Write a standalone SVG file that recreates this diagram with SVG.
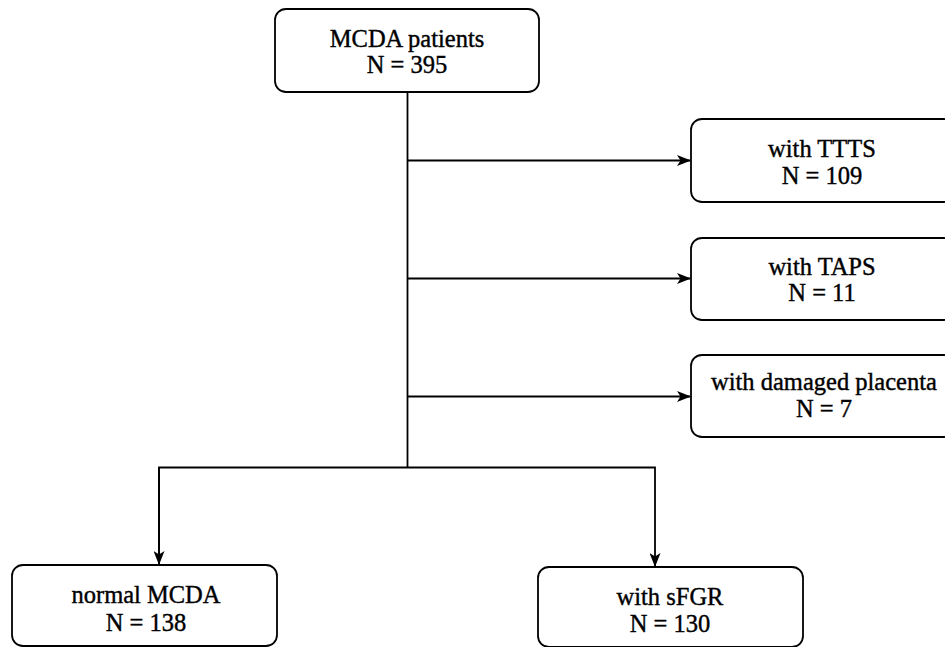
<svg xmlns="http://www.w3.org/2000/svg" width="945" height="647" viewBox="0 0 945 647">
<defs>
<style>
.box{fill:#fff;stroke:#000;stroke-width:1.8}
.t{font-family:"Liberation Serif","Times New Roman",serif;font-size:24.5px;fill:#000;stroke:#000;stroke-width:0.4;text-anchor:middle}
.ln{fill:none;stroke:#000;stroke-width:1.8}
</style>
<marker id="ah" viewBox="0 0 14 11" refX="13" refY="5.5" markerWidth="14" markerHeight="11" markerUnits="userSpaceOnUse" orient="auto">
<path d="M0,0 L14,5.5 L0,11 L3.5,5.5 Z" fill="#000"/>
</marker>
</defs>
<rect width="945" height="647" fill="#fff"/>
<g id="connectors">
<path class="ln" d="M407.5,92 V468"/>
<path class="ln" d="M407.5,160.5 H690" marker-end="url(#ah)"/>
<path class="ln" d="M407.5,278.5 H690" marker-end="url(#ah)"/>
<path class="ln" d="M407.5,396.5 H690" marker-end="url(#ah)"/>
<path class="ln" d="M159,566 V467.5 H655 V566" marker-end="url(#ah)"/>
<path class="ln" d="M159,467.5 V564" marker-end="url(#ah)"/>
</g>
<g id="n-mcda">
<rect class="box" x="275" y="9" width="264" height="83" rx="11"/>
<text class="t" x="407" y="47">MCDA patients</text>
<text class="t" x="407" y="73">N = 395</text>
</g>
<g id="n-ttts">
<rect class="box" x="691" y="119" width="264" height="83" rx="11"/>
<text class="t" x="822" y="157">with TTTS</text>
<text class="t" x="822" y="184">N = 109</text>
</g>
<g id="n-taps">
<rect class="box" x="691" y="238" width="264" height="82" rx="11"/>
<text class="t" x="822" y="275">with TAPS</text>
<text class="t" x="822" y="301">N = 11</text>
</g>
<g id="n-damaged">
<rect class="box" x="691" y="355" width="264" height="82" rx="11"/>
<text class="t" x="824" y="390">with damaged placenta</text>
<text class="t" x="824" y="417">N = 7</text>
</g>
<g id="n-normal">
<rect class="box" x="12" y="565" width="265" height="81" rx="11"/>
<text class="t" x="146" y="603">normal MCDA</text>
<text class="t" x="146" y="631">N = 138</text>
</g>
<g id="n-sfgr">
<rect class="box" x="538" y="567" width="265" height="80" rx="11"/>
<text class="t" x="670" y="605">with sFGR</text>
<text class="t" x="670" y="632">N = 130</text>
</g>
</svg>
